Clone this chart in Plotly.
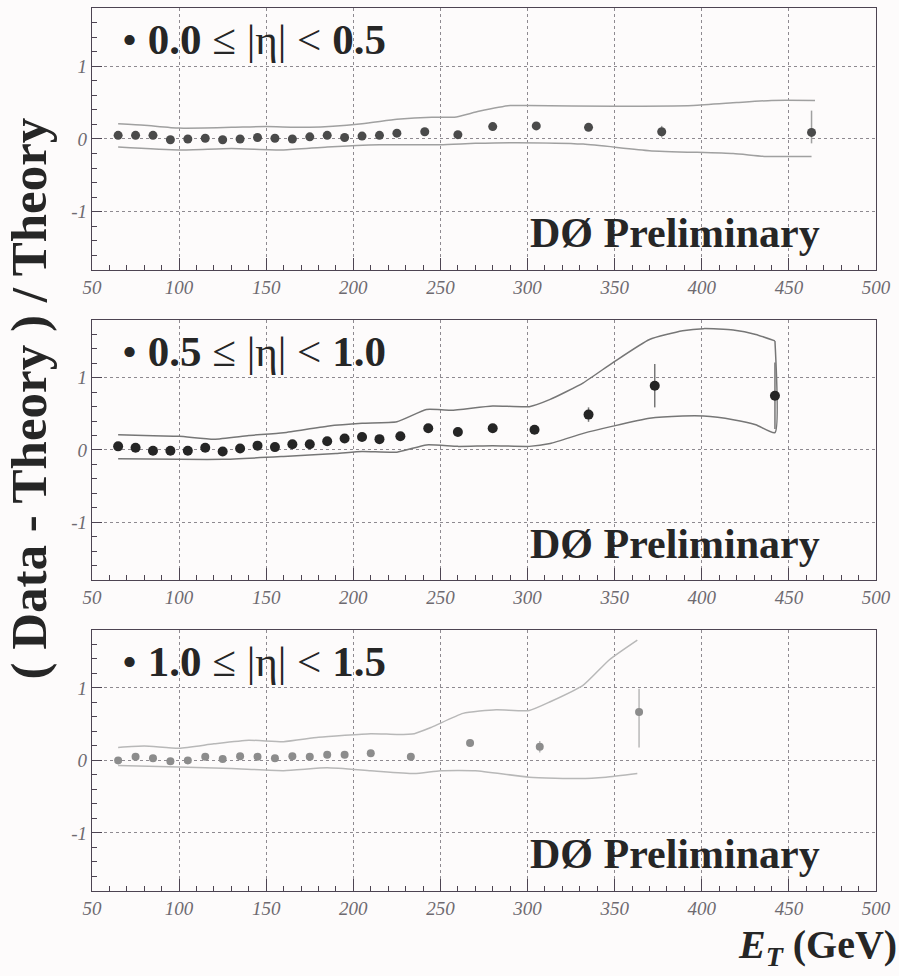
import plotly.graph_objects as go

# ---------------- data ----------------
# |eta| < 0.5
et_c = [65, 75, 85, 95, 105, 115, 125, 135, 145, 155, 165, 175, 185, 195, 205, 215,
        225, 241, 260, 280, 305, 335, 377, 463]
ratio_c = [0.05, 0.05, 0.05, -0.01, 0.0, 0.01, -0.01, 0.0, 0.02, 0.01, 0.0, 0.03, 0.05,
           0.02, 0.04, 0.05, 0.08, 0.10, 0.06, 0.17, 0.18, 0.16, 0.10, 0.09]
err_up_c = [0.01] * 17 + [0.02, 0.02, 0.03, 0.04, 0.05, 0.08, 0.30]
err_dn_c = [0.01] * 17 + [0.02, 0.02, 0.03, 0.04, 0.05, 0.08, 0.15]
band_hi_x_c = [65, 80, 100, 130, 150, 175, 205, 225, 245, 258, 272, 290, 300, 350, 395, 420, 440, 465]
band_hi_y_c = [0.21, 0.19, 0.15, 0.16, 0.17, 0.16, 0.21, 0.27, 0.30, 0.30, 0.38, 0.46, 0.46,
               0.45, 0.46, 0.50, 0.53, 0.53]
band_lo_x_c = [65, 100, 130, 160, 185, 215, 250, 270, 294, 332, 370, 418, 437, 463]
band_lo_y_c = [-0.11, -0.15, -0.13, -0.15, -0.11, -0.08, -0.08, -0.06, -0.05, -0.07,
               -0.16, -0.20, -0.24, -0.24]

# 0.5 <= |eta| < 1.0
et_m = [65, 75, 85, 95, 105, 115, 125, 135, 145, 155, 165, 175, 185, 195, 205, 215,
        227, 243, 260, 280, 304, 335, 373, 442]
ratio_m = [0.05, 0.03, -0.01, -0.01, -0.01, 0.03, -0.02, 0.02, 0.06, 0.04, 0.08, 0.08,
           0.12, 0.16, 0.18, 0.15, 0.19, 0.30, 0.25, 0.30, 0.28, 0.49, 0.89, 0.75]
err_up_m = [0.01] * 17 + [0.02, 0.02, 0.03, 0.04, 0.10, 0.30, 0.46]
err_dn_m = [0.01] * 17 + [0.02, 0.02, 0.03, 0.04, 0.10, 0.30, 0.46]
band_hi_x_m = [65, 80, 100, 120, 140, 160, 185, 205, 225, 242, 256, 280, 301, 313, 332,
               349, 370, 389, 401, 418, 431, 442]
band_hi_y_m = [0.21, 0.20, 0.19, 0.15, 0.20, 0.24, 0.33, 0.37, 0.39, 0.56, 0.55, 0.61,
               0.60, 0.70, 0.93, 1.21, 1.53, 1.65, 1.68, 1.66, 1.60, 1.51]
band_lo_x_m = [65, 100, 125, 160, 190, 205, 225, 242, 260, 280, 301, 313, 332, 349, 370,
               389, 401, 418, 431, 442, 442]
band_lo_y_m = [-0.12, -0.13, -0.13, -0.09, -0.05, -0.02, -0.03, 0.07, 0.05, 0.06, 0.05,
               0.09, 0.23, 0.33, 0.44, 0.47, 0.47, 0.42, 0.35, 0.24, 1.51]

# 1.0 <= |eta| < 1.5
et_f = [65, 75, 85, 95, 105, 115, 125, 135, 145, 155, 165, 175, 185, 195, 210, 233, 267,
        307, 364]
ratio_f = [0.0, 0.05, 0.03, -0.01, 0.0, 0.05, 0.02, 0.06, 0.05, 0.03, 0.06, 0.05, 0.08,
           0.08, 0.10, 0.05, 0.24, 0.19, 0.67]
err_up_f = [0.01] * 15 + [0.02, 0.04, 0.08, 0.32]
err_dn_f = [0.01] * 15 + [0.02, 0.04, 0.08, 0.49]
band_hi_x_f = [65, 80, 100, 120, 140, 160, 180, 210, 225, 235, 245, 263, 282, 301, 313,
               332, 347, 363]
band_hi_y_f = [0.18, 0.20, 0.17, 0.23, 0.28, 0.26, 0.32, 0.37, 0.36, 0.37, 0.46, 0.65,
               0.70, 0.69, 0.81, 1.04, 1.39, 1.66]
band_lo_x_f = [65, 100, 130, 160, 185, 210, 235, 250, 270, 301, 330, 345, 363]
band_lo_y_f = [-0.07, -0.09, -0.11, -0.14, -0.10, -0.14, -0.18, -0.14, -0.14, -0.23,
               -0.25, -0.23, -0.18]

panel_labels = ["<b>0.0</b> ≤ |η| &lt; <b>0.5</b>",
                "<b>0.5</b> ≤ |η| &lt; <b>1.0</b>",
                "<b>1.0</b> ≤ |η| &lt; <b>1.5</b>"]
x_ticks = [50, 100, 150, 200, 250, 300, 350, 400, 450, 500]
y_ticks = [-1, 0, 1]
y_ticktext = ["-1", "0", "1"]

# ---------------- styling ----------------
SERIF = "Liberation Serif"
FRAME = "#4d4452"
GRID = "#8e8a90"
BG = "#fdfbfb"

panels = [
    dict(x=et_c, y=ratio_c, up=err_up_c, dn=err_dn_c,
         hx=band_hi_x_c, hy=band_hi_y_c, lx=band_lo_x_c, ly=band_lo_y_c,
         mcol="#4a4a4a", msize=9, bcol="#a0a0a0"),
    dict(x=et_m, y=ratio_m, up=err_up_m, dn=err_dn_m,
         hx=band_hi_x_m, hy=band_hi_y_m, lx=band_lo_x_m, ly=band_lo_y_m,
         mcol="#252525", msize=10, bcol="#767676"),
    dict(x=et_f, y=ratio_f, up=err_up_f, dn=err_dn_f,
         hx=band_hi_x_f, hy=band_hi_y_f, lx=band_lo_x_f, ly=band_lo_y_f,
         mcol="#8c8c8c", msize=8, bcol="#b8b8b8"),
]

domains = [[0.7033, 1.0], [0.3522, 0.6467], [0.0, 0.2956]]

fig = go.Figure()
layout_axes = {}
annotations = []

for i, p in enumerate(panels):
    sfx = "" if i == 0 else str(i + 1)
    xa, ya = "x" + sfx, "y" + sfx
    # systematic-uncertainty band edges
    fig.add_trace(go.Scatter(x=p["hx"], y=p["hy"], mode="lines", xaxis=xa, yaxis=ya,
                             line=dict(color=p["bcol"], width=1.5, shape="spline", smoothing=0.5),
                             showlegend=False, hoverinfo="skip"))
    fig.add_trace(go.Scatter(x=p["lx"], y=p["ly"], mode="lines", xaxis=xa, yaxis=ya,
                             line=dict(color=p["bcol"], width=1.5, shape="spline", smoothing=0.5),
                             showlegend=False, hoverinfo="skip"))
    # data points with statistical errors
    fig.add_trace(go.Scatter(x=p["x"], y=p["y"], mode="markers", xaxis=xa, yaxis=ya,
                             marker=dict(color=p["mcol"], size=p["msize"]),
                             error_y=dict(type="data", array=p["up"], arrayminus=p["dn"],
                                          color=p["bcol"], thickness=1.5, width=0),
                             showlegend=False))

    layout_axes["xaxis" + sfx] = dict(
        domain=[0, 1], anchor=ya, range=[50, 500],
        tickvals=x_ticks, ticks="inside", ticklen=12, tickcolor=FRAME, tickwidth=1,
        minor=dict(dtick=10, tick0=50, ticks="inside", ticklen=5, tickcolor=FRAME),
        showline=True, linecolor=FRAME, linewidth=1.2, mirror=True,
        showgrid=True, gridcolor=GRID, griddash="dot", gridwidth=1,
        zeroline=False,
        tickfont=dict(family=SERIF, size=19, color="#6e6a70", style="italic"),
    )
    layout_axes["yaxis" + sfx] = dict(
        domain=domains[i], anchor=xa, range=[-1.8, 1.8],
        tickvals=y_ticks, ticktext=y_ticktext, ticks="inside", ticklen=10,
        tickcolor=FRAME,
        minor=dict(dtick=0.2, tick0=0, ticks="inside", ticklen=5, tickcolor=FRAME),
        showline=True, linecolor=FRAME, linewidth=1.2, mirror=True,
        showgrid=True, gridcolor=GRID, griddash="dot", gridwidth=1,
        zeroline=False,
        tickfont=dict(family=SERIF, size=19, color="#6e6a70", style="italic"),
    )

    annotations.append(dict(
        text="• " + panel_labels[i], xref=xa + " domain", yref=ya + " domain",
        x=0.036, y=0.88, xanchor="left", yanchor="middle", showarrow=False,
        font=dict(family=SERIF, size=43, color="#262626")))
    annotations.append(dict(
        text="<b>DØ Preliminary</b>", xref=xa + " domain", yref=ya + " domain",
        x=0.743, y=0.14, xanchor="center", yanchor="middle", showarrow=False,
        font=dict(family=SERIF, size=42, color="#262626")))

annotations.append(dict(
    text="<b>( Data - Theory ) / Theory</b>", xref="paper", yref="paper",
    x=-0.08, y=0.558, xanchor="center", yanchor="middle", textangle=-90,
    showarrow=False, font=dict(family=SERIF, size=51, color="#262626")))
annotations.append(dict(
    text="<b><i>E</i><sub><i>T</i></sub> (GeV)</b>", xref="paper", yref="paper",
    x=1.029, y=-0.063, xanchor="right", yanchor="middle", showarrow=False,
    font=dict(family=SERIF, size=40, color="#262626")))

fig.update_layout(
    width=899, height=976,
    margin=dict(l=92, r=23, t=8, b=85),
    paper_bgcolor=BG, plot_bgcolor=BG,
    annotations=annotations,
    **layout_axes,
)

fig.write_html("out.html", config={"displayModeBar": False})
